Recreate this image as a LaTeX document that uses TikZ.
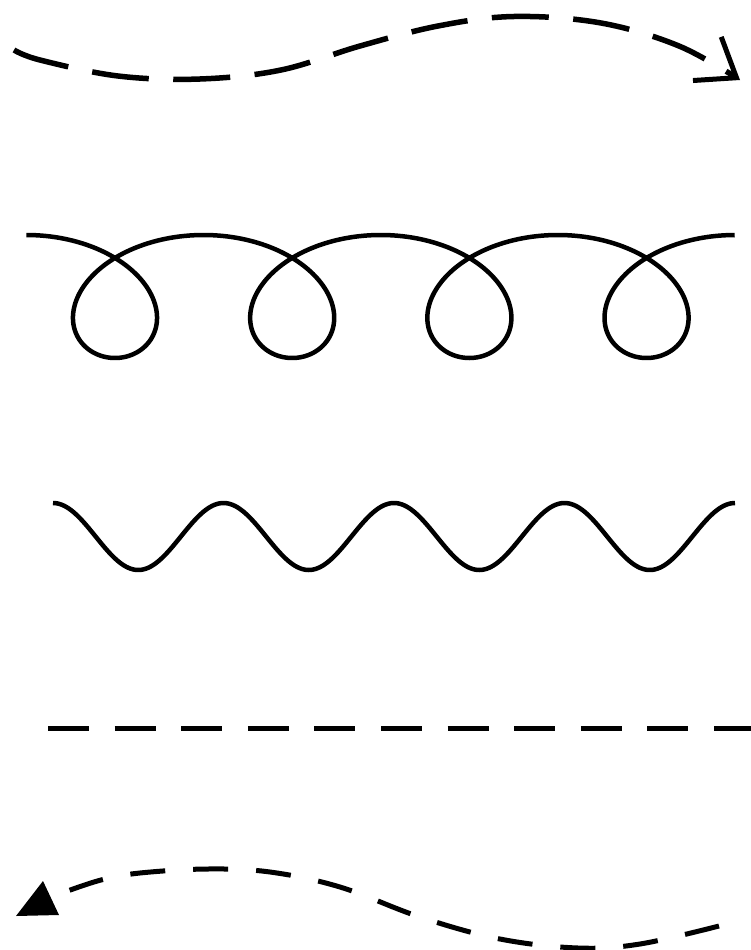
\documentclass[tikz,border=0pt]{standalone}
\usetikzlibrary{arrows.meta}
\begin{document}
\begin{tikzpicture}[x=1pt,y=-1pt,
  solidline/.style={line width=4.5pt, line join=round},
  dashtop/.style={line width=5.5pt, dash pattern=on 57pt off 24.5pt},
  dashmid/.style={line width=5pt, dash pattern=on 41pt off 25.6pt},
  dashbot/.style={line width=5pt, dash pattern=on 35pt off 28pt},
  barb/.style={-{Straight Barb[length=35pt, width=52pt, line width=5pt]}}]
\useasboundingbox (0,0) rectangle (751,950);
% top dashed arrow
\coordinate (topstart) at (14,50);
\coordinate (topend) at (740,80);
\draw[dashtop, barb] plot[smooth, tension=0.6] coordinates
  {(14,50) (40,60) (118,76) (200,79) (281,70) (360,46) (438,26) (514,16.5) (601,23) (679,46) (740,80)};
% coil
\draw[solidline] plot[variable=\t, domain=0:25.1327, samples=700]
  ({26.4 + 28.2*\t + 81.4*sin(\t r)}, {296.5 - 61.5*cos(\t r)});
% wave
\draw[solidline] plot[variable=\u, domain=53:735, samples=300]
  ({\u}, {536.5 - 33.5*cos(2.11144*(\u-53))});
% straight dashed line
\coordinate (ls) at (48,728);
\coordinate (le) at (751,728);
\draw[dashmid] (ls) -- (le);
% bottom dashed curve with filled triangle head
\draw[dashbot] plot[smooth, tension=0.6] coordinates
  {(719,926) (640,944) (578,948) (500,939) (420,917) (340,887) (270,872) (207,869) (140,873) (101,880) (62,893)};
\coordinate (h1) at (43,881);
\coordinate (h2) at (16,916);
\coordinate (h3) at (59,915);
\fill (h1) -- (h2) -- (h3) -- cycle;
\end{tikzpicture}
\end{document}
